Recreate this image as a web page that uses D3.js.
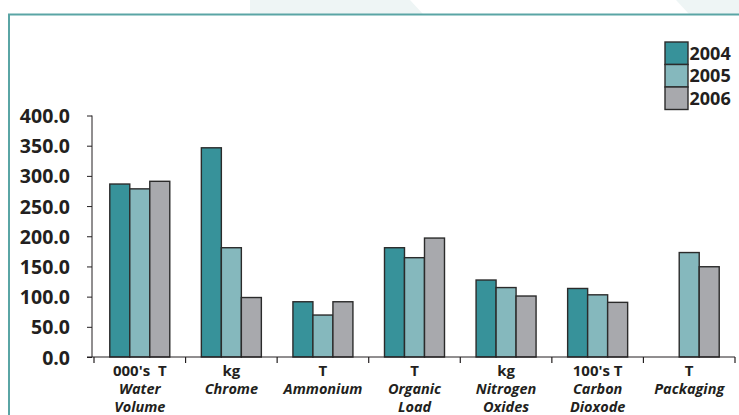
<!DOCTYPE html>
<html>
<head>
<meta charset="utf-8">
<script src="https://cdn.jsdelivr.net/npm/d3@7/dist/d3.min.js"></script>
<style>
  html, body { margin: 0; padding: 0; background: #ffffff; }
  svg { display: block; }
  text { font-family: "Open Sans", "DejaVu Sans", sans-serif; fill: #231f20; }
</style>
</head>
<body>
<svg id="chart" width="739" height="415"></svg>
<script>
// Emission categories: unit line, then name lines
const categories = ["Water Volume", "Chrome", "Ammonium", "Organic Load", "Nitrogen Oxides", "Carbon Dioxode", "Packaging"];
const units = ["000's  T", "kg", "T", "T", "kg", "100's T", "T"];
const nameLines = [["Water", "Volume"], ["Chrome"], ["Ammonium"], ["Organic", "Load"], ["Nitrogen", "Oxides"], ["Carbon", "Dioxode"], ["Packaging"]];

const years = ["2004", "2005", "2006"];
const values2004 = [286.5, 346.5, 91.5, 181.0, 127.5, 113.5, null];
const values2005 = [278.5, 181.0, 69.5, 164.5, 115.0, 103.0, 173.0];
const values2006 = [291.0, 98.5, 91.5, 197.0, 101.0, 90.5, 149.5];
const seriesValues = [values2004, values2005, values2006];

const yTicks = [0, 50, 100, 150, 200, 250, 300, 350, 400];
const colors = ["#37929a", "#85b8bd", "#a8a9ad"];

const svg = d3.select("#chart");

// faint background shapes behind the panel's top edge
const bg = svg.append("g");
bg.append("polygon").attr("points", "250,0 410,0 423,14 250,14").attr("fill", "#eef5f5");
bg.append("polygon").attr("points", "676,0 739,0 739,14 689,14").attr("fill", "#eef5f5");

// panel frame (top and left teal rules)
svg.append("path")
  .attr("d", "M9,416 V14.5 H739")
  .attr("fill", "none")
  .attr("stroke", "#5aa5a5")
  .attr("stroke-width", 2);

const y = d3.scaleLinear().domain([0, 400]).range([357, 115.5]);
const x0 = d3.scaleBand().domain(categories).range([94, 735]).padding(0);
const groupW = 60;
const x1 = d3.scaleBand().domain(years)
  .range([(x0.bandwidth() - groupW) / 2, (x0.bandwidth() + groupW) / 2]);

// bars
const groups = svg.append("g").selectAll("g")
  .data(categories)
  .join("g")
  .attr("transform", d => `translate(${x0(d)},0)`);

groups.selectAll("rect")
  .data((c, i) => years.map((yr, s) => ({ yr, s, v: seriesValues[s][i] })).filter(d => d.v != null))
  .join("rect")
  .attr("x", d => x1(d.yr))
  .attr("width", x1.bandwidth())
  .attr("y", d => y(d.v))
  .attr("height", d => y(0) - y(d.v))
  .attr("fill", d => colors[d.s])
  .attr("stroke", "#2b2b2b")
  .attr("stroke-width", 1.4);

// y axis
const yAxis = svg.append("g")
  .attr("transform", "translate(92,0)")
  .call(d3.axisLeft(y).tickValues(yTicks).tickSize(5).tickPadding(17).tickFormat(d3.format(".1f")));
yAxis.select(".domain").attr("stroke", "#231f20").attr("d", `M0,${y(400)}V${y(0)}`);
yAxis.selectAll(".tick line").attr("stroke", "#231f20");
yAxis.selectAll(".tick text")
  .attr("font-size", 19.5)
  .attr("font-weight", 700)
  .attr("font-family", "'Open Sans', sans-serif")
  .attr("fill", "#231f20")
  .attr("dy", "0.36em");

// x axis: baseline with ticks at category boundaries
const xAxisG = svg.append("g");
xAxisG.append("line")
  .attr("x1", 87).attr("x2", x0.range()[1])
  .attr("y1", y(0)).attr("y2", y(0))
  .attr("stroke", "#231f20").attr("stroke-width", 1);
const bounds = categories.map(c => x0(c)).concat([x0.range()[1]]);
xAxisG.selectAll("line.bt")
  .data(bounds)
  .join("line")
  .attr("class", "bt")
  .attr("x1", d => d).attr("x2", d => d)
  .attr("y1", y(0)).attr("y2", y(0) + 6)
  .attr("stroke", "#231f20").attr("stroke-width", 1.2);

// category labels
const lab = svg.append("g").selectAll("g")
  .data(categories)
  .join("g")
  .attr("transform", d => `translate(${x0(d) + x0.bandwidth() / 2},0)`);
lab.append("text")
  .attr("y", 375.5)
  .attr("text-anchor", "middle")
  .attr("font-size", 15)
  .attr("font-weight", 700)
  .style("white-space", "pre")
  .text((d, i) => units[i]);
lab.each(function (d, i) {
  d3.select(this).selectAll("text.nm")
    .data(nameLines[i])
    .join("text")
    .attr("class", "nm")
    .attr("y", (t, k) => 393.5 + k * 18)
    .attr("text-anchor", "middle")
    .attr("font-size", 14.5)
    .attr("font-weight", 700)
    .attr("font-style", "italic")
    .text(t => t);
});

// legend
const leg = svg.append("g").attr("transform", "translate(665,42)");
const legItems = leg.selectAll("g")
  .data(years)
  .join("g")
  .attr("transform", (d, i) => `translate(0,${i * 22.5})`);
legItems.append("rect")
  .attr("width", 23).attr("height", 22.5)
  .attr("fill", (d, i) => colors[i])
  .attr("stroke", "#2b2b2b").attr("stroke-width", 1.4);
legItems.append("text")
  .attr("x", 24.5).attr("y", 11.5)
  .attr("dy", "0.36em")
  .attr("font-size", 18)
  .attr("font-weight", 700)
  .attr("font-family", "Lato, 'Open Sans', sans-serif")
  .text(d => d);
</script>
</body>
</html>
